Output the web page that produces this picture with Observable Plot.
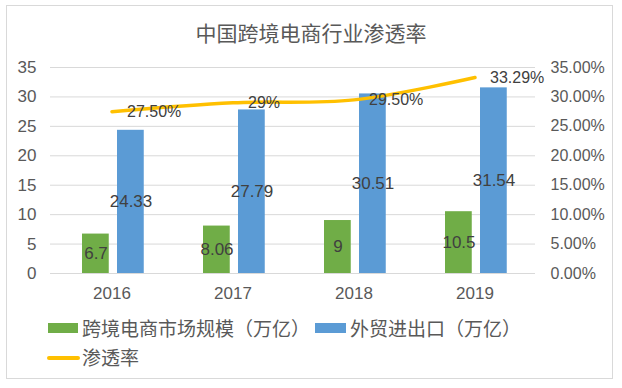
<!DOCTYPE html>
<html>
<head>
<meta charset="utf-8">
<script src="https://cdn.jsdelivr.net/npm/d3@7"></script>
<script src="https://cdn.jsdelivr.net/npm/@observablehq/plot@0.6"></script>
<style>
  html, body { margin: 0; padding: 0; background: #fff; }
  #wrap { position: relative; width: 622px; height: 388px; overflow: hidden; font-family: "Liberation Sans", "Noto Sans CJK SC", sans-serif; }
  #frame { position: absolute; left: 6px; top: 5px; width: 607px; height: 374px; border: 1px solid #d9d9d9; box-sizing: border-box; }
  #title { position: absolute; left: 0; width: 622px; top: 22px; text-align: center; font-family: "Noto Sans CJK SC", sans-serif; font-size: 21px; line-height: 1; color: #595959; }
  #chart { position: absolute; left: 0; top: 0; }
  .lg { position: absolute; font-family: "Noto Sans CJK SC", sans-serif; font-size: 19px; line-height: 1; color: #595959; white-space: nowrap; }
  .sw { position: absolute; }
</style>
</head>
<body>
<div id="wrap">
  <div id="frame"></div>
  <div id="title">中国跨境电商行业渗透率</div>
  <div id="chart"></div>
  <div class="sw" style="left:48px; top:323px; width:30px; height:10px; background:#70AD47"></div>
  <div class="lg" style="left:82px; top:318px">跨境电商市场规模（万亿）</div>
  <div class="sw" style="left:315px; top:323px; width:31px; height:10px; background:#5B9BD5"></div>
  <div class="lg" style="left:350px; top:318px">外贸进出口（万亿）</div>
  <div class="sw" style="left:47px; top:356px; width:33px; height:4px; background:#FFC000; border-radius:2px"></div>
  <div class="lg" style="left:82px; top:347px">渗透率</div>
</div>
<script>
const years = ["2016", "2017", "2018", "2019"];
const ecommerce = [6.7, 8.06, 9, 10.5];
const trade = [24.33, 27.79, 30.51, 31.54];
const rate = [27.5, 29, 29.5, 33.29];
const rateLabels = ["27.50%", "29%", "29.50%", "33.29%"];
const yTicks = [0, 5, 10, 15, 20, 25, 30, 35];
const rightTickLabels = ["0.00%", "5.00%", "10.00%", "15.00%", "20.00%", "25.00%", "30.00%", "35.00%"];

const green = "#70AD47", blue = "#5B9BD5", yellow = "#FFC000";

const ecoData = years.map((y, i) => ({year: y, value: ecommerce[i]}));
const tradeData = years.map((y, i) => ({year: y, value: trade[i]}));
const rateData = years.map((y, i) => ({year: y, value: rate[i], label: rateLabels[i]}));
const rightData = yTicks.map((t, i) => ({t, label: rightTickLabels[i]}));

const chart = Plot.plot({
  width: 622,
  height: 310,
  marginLeft: 50,
  marginRight: 87,
  marginTop: 67,
  marginBottom: 37,
  style: {fontFamily: "Liberation Sans, Arial, sans-serif", fontSize: "17px", color: "#595959", background: "transparent", overflow: "visible"},
  x: {domain: years, padding: 0, tickSize: 0, tickPadding: 13, label: null},
  y: {domain: [0, 35], ticks: yTicks, tickSize: 0, tickPadding: 14, label: null, tickFormat: d => String(d)},
  marks: [
    Plot.ruleY(yTicks, {stroke: "#d9d9d9", strokeWidth: 1}),
    Plot.barY(ecoData, {x: "year", y: "value", fill: green, insetLeft: 31, insetRight: 63.25}),
    Plot.barY(tradeData, {x: "year", y: "value", fill: blue, insetLeft: 66, insetRight: 28.25}),
    Plot.text(ecoData, {x: "year", y: d => d.value / 2, text: d => String(d.value), dx: -16, fill: "#404040", fontSize: 17}),
    Plot.text(tradeData, {x: "year", y: d => d.value / 2, text: d => String(d.value), dx: 19, fill: "#404040", fontSize: 17}),
    Plot.line(rateData, {x: "year", y: "value", stroke: yellow, strokeWidth: 3.5, curve: "catmull-rom", strokeLinecap: "round"}),
    Plot.text(rateData, {x: "year", y: "value", text: "label", dx: 15, textAnchor: "start", fill: "#404040", fontSize: 16}),
    Plot.text(rightData, {y: "t", text: "label", frameAnchor: "right", dx: 15, textAnchor: "start", fill: "#595959", fontSize: 16})
  ]
});
document.getElementById("chart").appendChild(chart);
</script>
</body>
</html>
